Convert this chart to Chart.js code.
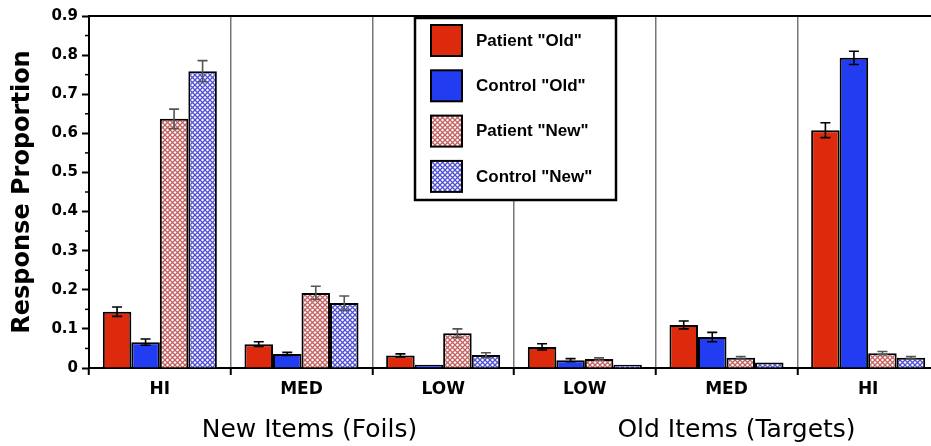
<!DOCTYPE html>
<html>
<head>
<meta charset="utf-8">
<script src="https://cdn.jsdelivr.net/npm/chart.js@4.4.1/dist/chart.umd.min.js"></script>
<style>
  html, body { margin: 0; padding: 0; background: #fff; overflow: hidden; }
  #wrap { width: 945px; height: 446px; position: relative; }
</style>
</head>
<body>
<div id="wrap"><canvas id="myChart"></canvas></div>
<script>
// categories along the x axis
var categories = ["HI", "MED", "LOW", "LOW", "MED", "HI"];
var groupLabels = ["New Items (Foils)", "Old Items (Targets)"];
var seriesNames = ['Patient "Old"', 'Control "Old"', 'Patient "New"', 'Control "New"'];

// response proportions
var patientOld = [0.144, 0.061, 0.032, 0.054, 0.110, 0.608];
var controlOld = [0.066, 0.036, 0.008, 0.020, 0.079, 0.793];
var patientNew = [0.637, 0.192, 0.089, 0.023, 0.026, 0.038];
var controlNew = [0.759, 0.166, 0.033, 0.008, 0.014, 0.026];

// standard errors
var patientOldErr = [0.012, 0.006, 0.004, 0.008, 0.010, 0.019];
var controlOldErr = [0.008, 0.004, 0.002, 0.004, 0.012, 0.017];
var patientNewErr = [0.025, 0.017, 0.011, 0.003, 0.003, 0.004];
var controlNewErr = [0.027, 0.018, 0.006, 0.002, 0.002, 0.003];

var yMin = 0, yMax = 0.9, yStep = 0.1;

function hatch(color) {
    var c = document.createElement('canvas');
    c.width = 5; c.height = 5;
    var g = c.getContext('2d');
    g.fillStyle = '#fff';
    g.fillRect(0, 0, 5, 5);
    g.strokeStyle = color;
    g.lineWidth = 1.3;
    g.beginPath();
    g.moveTo(-1, -1); g.lineTo(6, 6);
    g.moveTo(6, -1); g.lineTo(-1, 6);
    g.stroke();
    return g.createPattern(c, 'repeat');
}

var red = 'rgb(222, 42, 12)';
var blue = 'rgb(34, 60, 242)';
var pinkHatch = hatch('rgb(196, 96, 96)');
var blueHatch = hatch('rgb(80, 80, 210)');

var errorBars = {
    id: 'errorBars',
    afterDatasetsDraw: function (chart) {
        var ctx = chart.ctx;
        var ys = chart.scales.y;
        chart.data.datasets.forEach(function (ds, di) {
            var meta = chart.getDatasetMeta(di);
            ctx.save();
            ctx.strokeStyle = ds.errColor;
            ctx.lineWidth = 1.6;
            meta.data.forEach(function (bar, i) {
                var v = ds.data[i], e = ds.errors[i];
                if (e < 0.003) return;
                var top = ys.getPixelForValue(v + e);
                var bot = ys.getPixelForValue(v - e);
                ctx.beginPath();
                ctx.moveTo(bar.x, top); ctx.lineTo(bar.x, bot);
                ctx.moveTo(bar.x - 5, top); ctx.lineTo(bar.x + 5, top);
                ctx.moveTo(bar.x - 5, bot); ctx.lineTo(bar.x + 5, bot);
                ctx.stroke();
            });
            ctx.restore();
        });
    }
};

var decorations = {
    id: 'decorations',
    afterDraw: function (chart) {
        var ctx = chart.ctx;
        var a = chart.chartArea;
        var xs = chart.scales.x, ys = chart.scales.y;
        ctx.save();
        // top frame line
        ctx.strokeStyle = '#000';
        ctx.lineWidth = 2;
        ctx.beginPath();
        ctx.moveTo(a.left, a.top); ctx.lineTo(a.right, a.top);
        ctx.stroke();
        // minor y ticks
        ctx.lineWidth = 1.5;
        for (var v = yMin + yStep / 2; v < yMax; v += yStep) {
            var py = ys.getPixelForValue(v);
            ctx.beginPath();
            ctx.moveTo(a.left - 4, py); ctx.lineTo(a.left, py);
            ctx.stroke();
        }
        // legend box
        var lx = 415, ly = 18, lw = 201, lh = 182;
        ctx.fillStyle = '#fff';
        ctx.fillRect(lx, ly, lw, lh);
        ctx.lineWidth = 2.5;
        ctx.strokeRect(lx, ly, lw, lh);
        ctx.font = 'bold 17px "Liberation Sans", Arial, sans-serif';
        ctx.textBaseline = 'middle';
        chart.data.datasets.forEach(function (ds, i) {
            var sy = 25 + i * 45.3;
            ctx.fillStyle = ds.backgroundColor;
            ctx.fillRect(431, sy, 31, 31);
            ctx.lineWidth = 2;
            ctx.strokeStyle = '#000';
            ctx.strokeRect(431, sy, 31, 31);
            ctx.fillStyle = '#000';
            ctx.fillText(ds.label, 476, sy + 16);
        });
        // y axis title
        ctx.save();
        ctx.translate(29, (a.top + a.bottom) / 2);
        ctx.rotate(-Math.PI / 2);
        ctx.font = 'bold 24px "DejaVu Sans", sans-serif';
        ctx.textAlign = 'center';
        ctx.textBaseline = 'alphabetic';
        ctx.fillText('Response Proportion', 0, 0);
        ctx.restore();
        // group titles
        ctx.font = '25px "DejaVu Sans", sans-serif';
        ctx.textAlign = 'center';
        ctx.textBaseline = 'alphabetic';
        var c1 = (xs.getPixelForValue(0) + xs.getPixelForValue(2)) / 2 + 8;
        var c2 = (xs.getPixelForValue(3) + xs.getPixelForValue(5)) / 2 + 10;
        ctx.fillText(groupLabels[0], c1, 437);
        ctx.fillText(groupLabels[1], c2, 437);
        ctx.restore();
    }
};

var ctx = document.getElementById('myChart').getContext('2d');
var chart = new Chart(ctx, {
    type: 'bar',
    data: {
        labels: categories,
        datasets: [
            { label: seriesNames[0], data: patientOld, errors: patientOldErr, backgroundColor: red, errColor: '#000' },
            { label: seriesNames[1], data: controlOld, errors: controlOldErr, backgroundColor: blue, errColor: '#000' },
            { label: seriesNames[2], data: patientNew, errors: patientNewErr, backgroundColor: pinkHatch, errColor: '#555' },
            { label: seriesNames[3], data: controlNew, errors: controlNewErr, backgroundColor: blueHatch, errColor: '#555' }
        ]
    },
    options: {
        responsive: true,
        maintainAspectRatio: false,
        animation: false,
        devicePixelRatio: 1,
        layout: { padding: { left: 0, right: 6, top: 16, bottom: 0 } },
        datasets: {
            bar: {
                borderColor: '#000',
                borderWidth: 2,
                categoryPercentage: 0.805,
                barPercentage: 1.0
            }
        },
        plugins: {
            legend: { display: false },
            tooltip: { enabled: false }
        },
        scales: {
            x: {
                z: 1,
                grid: {
                    offset: true,
                    color: '#777',
                    lineWidth: 1.5,
                    tickColor: '#000',
                    tickWidth: 2,
                    tickLength: 7
                },
                border: { color: '#000', width: 2 },
                ticks: {
                    color: '#000',
                    padding: 4,
                    font: { family: '"DejaVu Sans", sans-serif', size: 17, weight: 'bold' }
                },
                afterFit: function (s) { s.height = 78; }
            },
            y: {
                z: 1,
                min: yMin,
                max: yMax,
                grid: {
                    drawOnChartArea: false,
                    tickColor: '#000',
                    tickWidth: 2,
                    tickLength: 7
                },
                border: { color: '#000', width: 2 },
                ticks: {
                    stepSize: yStep,
                    color: '#000',
                    padding: 4,
                    font: { family: '"DejaVu Sans", sans-serif', size: 15, weight: 'bold' },
                    callback: function (v) { return Math.round(v * 10) / 10 + ''; }
                },
                afterFit: function (s) { s.width = 89; }
            }
        }
    },
    plugins: [errorBars, decorations]
});
</script>
</body>
</html>
